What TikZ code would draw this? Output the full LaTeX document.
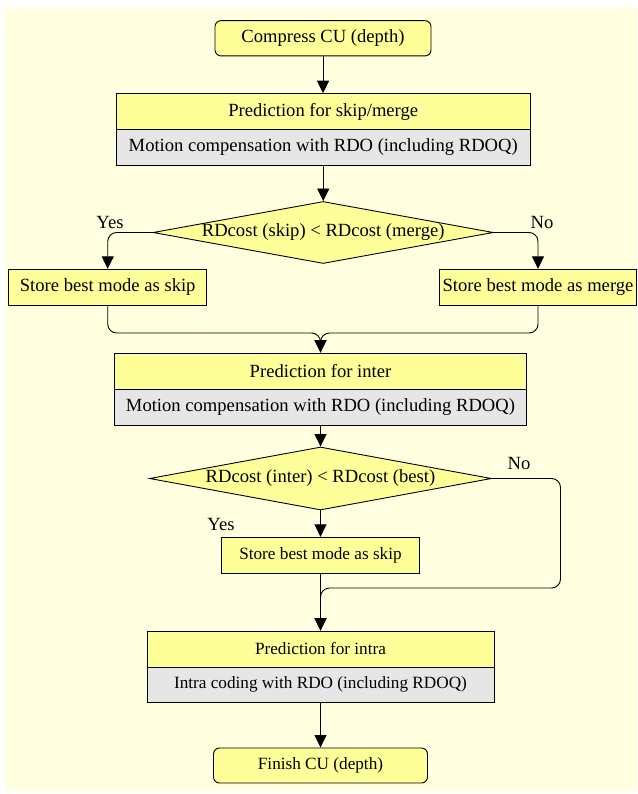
\documentclass[tikz,border=0pt]{standalone}
\usepackage{fontspec}
\setmainfont{Liberation Serif}
\usetikzlibrary{arrows.meta,shapes.geometric}
\definecolor{panel}{HTML}{FFFFE0}
\definecolor{boxyellow}{HTML}{FFFF99}
\definecolor{boxgrey}{HTML}{E6E6E6}
\begin{document}
\begin{tikzpicture}[x=1pt,y=-1pt,
  big/.style={font=\fontsize{18.6}{22}\selectfont},
  small/.style={font=\fontsize{17.2}{20}\selectfont},
  box/.style={draw=black,line width=0.9pt,inner sep=0pt,fill=boxyellow},
  greybox/.style={box,fill=boxgrey},
  terminal/.style={box,rounded corners=6pt},
  decision/.style={draw=black,line width=0.9pt,fill=boxyellow,shape=diamond,inner sep=0pt},
  plain/.style={inner sep=0pt},
  arr/.style={draw=black,line width=0.9pt,-{Triangle[width=12pt,length=12.5pt]}},
  roundarr/.style={arr,rounded corners=9pt}]
  % page and panel
  \fill[white] (0,0) rectangle (637,794);
  \useasboundingbox (0,0) rectangle (637,794);
  \fill[panel] (5,8) rectangle (637,791);

  % start
  \node[terminal,big,minimum width=216pt,minimum height=35.3pt] (start) at (323,38.3) {Compress CU (depth)};

  % skip / merge prediction
  \node[box,big,minimum width=413.5pt,minimum height=35.6pt] (p1a) at (323.25,111.5) {Prediction for skip/merge};
  \node[greybox,big,minimum width=413.5pt,minimum height=35.7pt] (p1b) at (323.25,147.15) {Motion compensation with RDO (including RDOQ)};

  % first decision
  \node[decision,minimum width=340.3pt,minimum height=62pt] (d1) at (323.2,232.5) {};
  \node[plain,big] (d1t) at (d1.center) {RDcost (skip) < RDcost (merge)};
  \node[plain,big] (yes1) at (110,223) {Yes};
  \node[plain,big] (no1) at (542,223) {No};

  \node[box,big,minimum width=198pt,minimum height=36.4pt] (s1) at (107.7,287.5) {Store best mode as skip};
  \node[box,big,minimum width=197.4pt,minimum height=36.4pt] (m1) at (538,287.5) {Store best mode as merge};
  \coordinate (j1) at (320.5,333);

  % inter prediction
  \node[box,big,minimum width=412.4pt,minimum height=36pt] (p2a) at (320.5,371) {Prediction for inter};
  \node[greybox,big,minimum width=412.4pt,minimum height=36pt] (p2b) at (320.5,407) {Motion compensation with RDO (including RDOQ)};

  % second decision
  \node[decision,minimum width=342pt,minimum height=63pt] (d2) at (320.5,478.5) {};
  \node[plain,big] (d2t) at (d2.center) {RDcost (inter) < RDcost (best)};
  \node[plain,big] (yes2) at (221,524) {Yes};
  \node[plain,big] (no2) at (519,463) {No};

  \node[box,small,minimum width=197.3pt,minimum height=36pt] (s2) at (320.5,555.3) {Store best mode as skip};
  \coordinate (c2) at (560.5,588);
  \coordinate (j2) at (320.5,588);

  % intra prediction
  \node[box,small,minimum width=347pt,minimum height=36pt] (p3a) at (320.5,649) {Prediction for intra};
  \node[greybox,small,minimum width=347pt,minimum height=35.7pt] (p3b) at (320.5,684.85) {Intra coding with RDO (including RDOQ)};

  % end
  \node[terminal,small,minimum width=214pt,minimum height=35pt] (finish) at (320.5,765.5) {Finish CU (depth)};

  % connectors
  \draw[arr] (start.south) -- (start.south |- p1a.north);
  \draw[arr] (p1b.south) -- (p1b.south |- d1.north);
  \draw[roundarr] (d1.west) -| (s1.north);
  \draw[roundarr] (d1.east) -| (m1.north);
  \draw[roundarr] (s1.south) |- (j1) -- (p2a.north);
  \draw[roundarr] (m1.south) |- (j1) -- (p2a.north);
  \draw[arr] (p2b.south) -- (p2b.south |- d2.north);
  \draw[arr] (d2.south) -- (s2.north);
  \draw[arr] (s2.south) -- (p3a.north);
  \draw[roundarr] (d2.east) -| (c2) -- (j2) -- (p3a.north);
  \draw[arr] (p3b.south) -- (finish.north);
\end{tikzpicture}
\end{document}
